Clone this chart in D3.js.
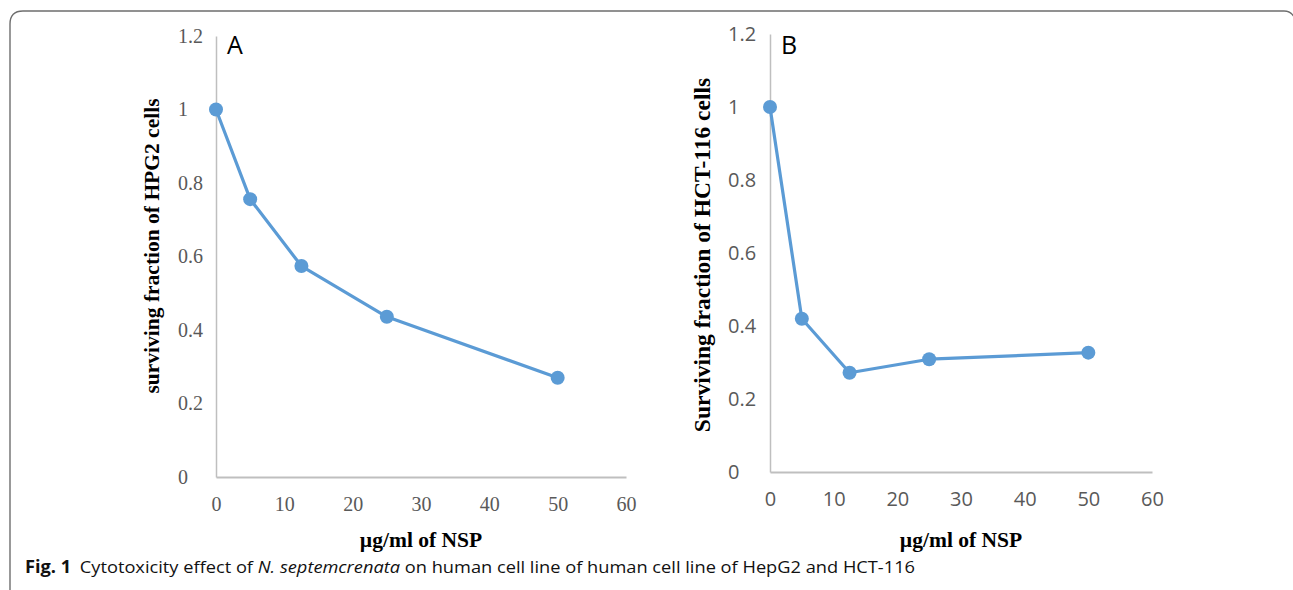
<!DOCTYPE html>
<html>
<head>
<meta charset="utf-8">
<script src="https://cdn.jsdelivr.net/npm/d3@7"></script>
<style>
  body { margin: 0; background: #fff; }
  svg { display: block; }
</style>
</head>
<body>
<script>
// concentrations (ug/ml of NSP)
var doses = [0, 5, 12.5, 25, 50];
var hepg2 = [1.0, 0.756, 0.574, 0.436, 0.270];
var hct116 = [1.0, 0.42, 0.272, 0.309, 0.327];
var xTicks = [0, 10, 20, 30, 40, 50, 60];
var yTicks = [0, 0.2, 0.4, 0.6, 0.8, 1, 1.2];
var yTickLabels = ["0", "0.2", "0.4", "0.6", "0.8", "1", "1.2"];

var W = 1293, H = 590;
var blue = "#5b9bd5", axisGrey = "#bfbfbf", textGrey = "#595959";

var svg = d3.select("body").append("svg")
    .attr("width", W)
    .attr("height", H);

// outer frame, open at the bottom and right
svg.append("path")
    .attr("d", "M10,590 L10,24 Q10,11 23,11 L1284,11 Q1291,11 1294,17")
    .attr("fill", "none")
    .attr("stroke", "#6e6e6e")
    .attr("stroke-width", 1.4);

var panels = [
    {values: hepg2, x0: 216, x1: 626, y0: 477, y1: 36, letter: "A",
     tickFont: "'Liberation Serif', 'Times New Roman', serif", tickSize: 20, tickPad: 20,
     tickX: 178, yTitle: "surviving fraction of HPG2 cells", yTitleX: 159, yTitleY: 246, yTitleSize: 21.5},
    {values: hct116, x0: 770, x1: 1152, y0: 472, y1: 34, letter: "B",
     tickFont: "'Open Sans', sans-serif", tickSize: 20, tickPad: 20,
     tickX: 728, yTitle: "Surviving fraction of HCT-116 cells", yTitleX: 710, yTitleY: 255, yTitleSize: 23.5}
];

panels.forEach(function(p) {
    var x = d3.scaleLinear().domain([0, 60]).range([p.x0, p.x1]);
    var y = d3.scaleLinear().domain([0, 1.2]).range([p.y0, p.y1]);
    var g = svg.append("g");

    // axes (no tick marks, Excel style)
    var xAxis = g.append("g")
        .attr("transform", "translate(0," + p.y0 + ")")
        .call(d3.axisBottom(x).tickValues(xTicks).tickSize(0).tickPadding(p.tickPad));
    xAxis.select(".domain").attr("stroke", axisGrey).attr("stroke-width", 2);
    xAxis.selectAll("text")
        .attr("fill", textGrey)
        .style("font-family", p.tickFont)
        .style("font-size", p.tickSize + "px");

    var yAxis = g.append("g")
        .attr("transform", "translate(" + p.x0 + ",0)")
        .call(d3.axisLeft(y).tickValues(yTicks).tickSize(0)
            .tickFormat(function(d, i) { return yTickLabels[i]; }));
    yAxis.select(".domain").attr("stroke", axisGrey).attr("stroke-width", 1.5);
    yAxis.selectAll("text")
        .attr("x", p.tickX - p.x0)
        .attr("text-anchor", "start")
        .attr("fill", textGrey)
        .style("font-family", p.tickFont)
        .style("font-size", p.tickSize + "px");

    // series
    var pts = doses.map(function(d, i) { return [d, p.values[i]]; });
    g.append("path")
        .datum(pts)
        .attr("fill", "none")
        .attr("stroke", blue)
        .attr("stroke-width", 3.2)
        .attr("stroke-linejoin", "round")
        .attr("d", d3.line()
            .x(function(d) { return x(d[0]); })
            .y(function(d) { return y(d[1]); }));

    g.selectAll("circle")
        .data(pts)
        .enter().append("circle")
        .attr("cx", function(d) { return x(d[0]); })
        .attr("cy", function(d) { return y(d[1]); })
        .attr("r", 7)
        .attr("fill", blue);

    // panel letter
    g.append("text")
        .attr("x", p.x0 + 11)
        .attr("y", 54)
        .style("font-family", "'Open Sans', sans-serif")
        .style("font-size", "25px")
        .attr("fill", "#000")
        .text(p.letter);

    // axis titles
    g.append("text")
        .attr("x", (p.x0 + p.x1) / 2)
        .attr("y", 547)
        .attr("text-anchor", "middle")
        .style("font-family", "'Liberation Serif', 'Times New Roman', serif")
        .style("font-weight", "bold")
        .style("font-size", "21.5px")
        .attr("fill", "#000")
        .text("\u00b5g/ml of NSP");

    g.append("text")
        .attr("transform", "translate(" + p.yTitleX + "," + p.yTitleY + ") rotate(-90)")
        .attr("text-anchor", "middle")
        .style("font-family", "'Liberation Serif', 'Times New Roman', serif")
        .style("font-weight", "bold")
        .style("font-size", p.yTitleSize + "px")
        .attr("fill", "#000")
        .text(p.yTitle);
});

// caption
var cap = svg.append("text")
    .attr("x", 25)
    .attr("y", 573)
    .style("font-family", "'Open Sans', sans-serif")
    .style("font-size", "17px")
    .attr("fill", "#111");
cap.append("tspan").style("font-weight", "bold").text("Fig. 1");
cap.append("tspan").attr("dx", 8).text("Cytotoxicity effect of ");
cap.append("tspan").style("font-style", "italic").text("N. septemcrenata");
cap.append("tspan").text(" on human cell line of human cell line of HepG2 and HCT-116");
cap.attr("textLength", 890).attr("lengthAdjust", "spacingAndGlyphs");
</script>
</body>
</html>
